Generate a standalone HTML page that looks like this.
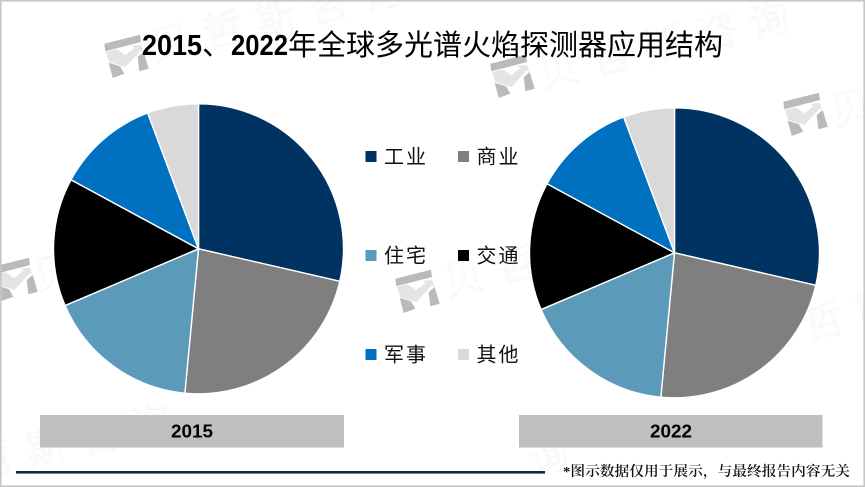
<!DOCTYPE html>
<html lang="zh">
<head>
<meta charset="utf-8">
<title>2015、2022年全球多光谱火焰探测器应用结构</title>
<style>
html,body{margin:0;padding:0;background:#fff;}
body{width:865px;height:487px;overflow:hidden;}
svg{display:block;filter:blur(.3px);}
.cjk{font-family:"Liberation Sans","Noto Sans CJK SC",sans-serif;}
.wm{font-family:"Noto Sans CJK SC",sans-serif;font-size:40px;font-weight:300;fill:none;stroke:#eef1f3;stroke-width:.6;}
</style>
</head>
<body>
<svg id="chart" xmlns="http://www.w3.org/2000/svg" width="865" height="487" viewBox="0 0 865 487">
  <rect x="0" y="0" width="865" height="487" fill="#ffffff"/>
  <g id="watermarks"></g>
  <g id="pies"></g>

  <text y="55" class="cjk" font-size="29" fill="#000">
    <tspan x="142" font-weight="700" textLength="60" lengthAdjust="spacingAndGlyphs">2015</tspan><tspan x="202">、</tspan><tspan x="231" font-weight="700" textLength="57" lengthAdjust="spacingAndGlyphs">2022</tspan><tspan x="288">年全球多光谱火焰探测器应用结构</tspan>
  </text>

  <g id="legend"></g>

  <rect x="40" y="415" width="304" height="32.5" fill="#bfbfbf"/>
  <text x="171" y="437.5" font-family="Liberation Sans, sans-serif" font-weight="700" font-size="18" textLength="42" lengthAdjust="spacingAndGlyphs" fill="#000">2015</text>
  <rect x="519" y="415" width="303.5" height="32.5" fill="#bfbfbf"/>
  <text x="650" y="437.5" font-family="Liberation Sans, sans-serif" font-weight="700" font-size="18" textLength="42" lengthAdjust="spacingAndGlyphs" fill="#000">2022</text>

  <rect x="16" y="471" width="529" height="2.6" fill="#0e2a4c"/>
  <text x="563" y="476" font-family="Liberation Serif, Noto Serif CJK SC, serif" font-size="14" font-weight="600" textLength="287" lengthAdjust="spacingAndGlyphs" fill="#111">*图示数据仅用于展示，与最终报告内容无关</text>

  <rect x="0.8" y="0.8" width="863.4" height="485.4" fill="none" stroke="#c6c6c6" stroke-width="1.6"/>
</svg>
<script>
const categories = ['工业', '商业', '住宅', '交通', '军事', '其他'];
const values2015 = [28.6, 22.9, 17.1, 14.3, 11.4, 5.7];
const values2022 = [28.6, 22.9, 17.1, 14.3, 11.4, 5.7];
const seriesColors = ['#003361', '#7f7f7f', '#5b9ab9', '#000000', '#0070c0', '#d9d9d9'];

const NS = 'http://www.w3.org/2000/svg';
function make(tag, attrs, parent) {
  const el = document.createElementNS(NS, tag);
  for (const k in attrs) el.setAttribute(k, attrs[k]);
  parent.appendChild(el);
  return el;
}

function drawPie(values, cx, cy, r, year) {
  const root = document.getElementById('pies');
  const g = make('g', {}, root);
  
  
  const total = values.reduce(function (a, b) { return a + b; }, 0);
  let acc = 0;
  values.forEach(function (v, i) {
    const a0 = acc / total * Math.PI * 2;
    acc += v;
    const a1 = acc / total * Math.PI * 2;
    const x0 = cx + r * Math.sin(a0), y0 = cy - r * Math.cos(a0);
    const x1 = cx + r * Math.sin(a1), y1 = cy - r * Math.cos(a1);
    const large = (a1 - a0) > Math.PI ? 1 : 0;
    const p = make('path', {
      d: 'M' + cx + ' ' + cy + 'L' + x0 + ' ' + y0 + 'A' + r + ' ' + r + ' 0 ' + large + ' 1 ' + x1 + ' ' + y1 + 'Z',
      fill: seriesColors[i], stroke: '#ffffff', 'stroke-width': 1.4, 'stroke-linejoin': 'round'
    }, g);
    
    
  });
}
drawPie(values2015, 198.5, 248.8, 145, '2015');
drawPie(values2022, 674.5, 252.8, 145, '2022');

function drawLegend() {
  const root = document.getElementById('legend');
  categories.forEach(function (name, i) {
    const col = i % 2, row = Math.floor(i / 2);
    const sx = col === 0 ? 365.5 : 458;
    const sy = 156.5 + row * 99;
    const g = make('g', {}, root);
    
    
    make('rect', { x: sx, y: sy - 5.5, width: 11, height: 11, fill: seriesColors[i] }, g);
    const t = make('text', { x: sx + 18.5, y: sy + 7, 'font-size': 20, 'letter-spacing': 2, fill: '#111', class: 'cjk' }, g);
    t.textContent = name;
  });
}
drawLegend();

const watermarkLogos = [[126, 55], [512, 75], [805, 113], [15, 278], [417, 290]];
const watermarkText = ['贝', '哲', '斯', '咨', '询'];
const watermarkRuns = [[170, 40], [558, 67], [850, 105], [53, 270], [463, 275], [-60, 470], [338, 504], [770, 331]];

const logoTopBar = '-21.7,-11.3 14,-20.3 15,-13 -20.7,-3.7';
const logoChevron = '-20,-3 -9.3,-5.7 -0.7,0.3 8.3,-7 6,-9 15,-10.3 17.3,-3 15,-4.7 -0.7,12 -16.7,7';
const logoLeftLeg = '-17.3,7.7 -6,11.3 -1.7,18.7 -13.3,23';
const logoRightLeg = '11.7,2 17.7,-3 22.7,13.7 13.3,16.3';

function drawWatermarks() {
  const root = document.getElementById('watermarks');
  watermarkRuns.forEach(function (run) {
    watermarkText.forEach(function (ch, i) {
      const x = run[0] + i * 52.5, y = run[1] - i * 12.5;
      if (y > 466 || x < -15 || x > 880) return;
      const t = make('text', { x: 0, y: 0, 'text-anchor': 'middle', 'dominant-baseline': 'central', class: 'wm',
        transform: 'translate(' + x + ' ' + y + ') rotate(-14)' }, root);
      
      
      t.textContent = ch;
    });
  });
  watermarkLogos.forEach(function (pos) {
    const g = make('g', { transform: 'translate(' + pos[0] + ' ' + pos[1] + ')' }, root);
    
    
    make('polygon', { points: logoTopBar, fill: '#bababa' }, g);
    make('polygon', { points: logoChevron, fill: '#e4e4e4' }, g);
    make('polygon', { points: logoLeftLeg, fill: '#bababa' }, g);
    make('polygon', { points: logoRightLeg, fill: '#bababa' }, g);
  });
}
drawWatermarks();
</script>
</body>
</html>
